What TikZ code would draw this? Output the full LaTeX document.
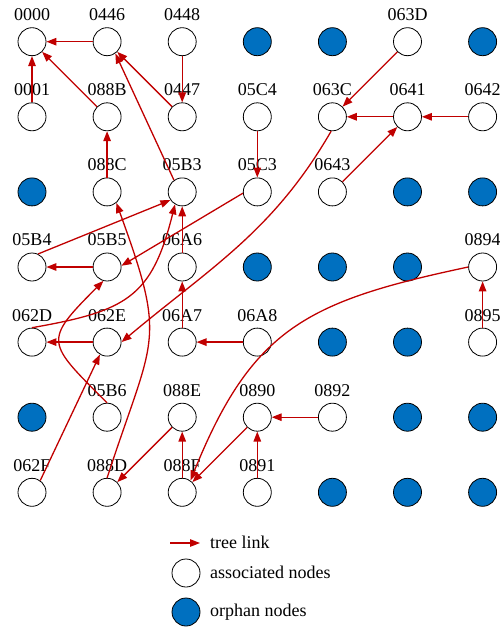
\documentclass[tikz,border=0pt]{standalone}
\usepackage{fontspec}
\setmainfont{Liberation Serif}
\usetikzlibrary{arrows.meta}
\definecolor{linkred}{RGB}{192,0,0}
\definecolor{orphanblue}{RGB}{0,112,192}
\begin{document}
\begin{tikzpicture}[x=1pt,y=1pt,
  assoc/.style={circle,draw=black,line width=0.8pt,fill=white,minimum size=28pt,inner sep=0pt},
  orphan/.style={assoc,fill=orphanblue},
  lab/.style={font=\fontsize{18}{18}\selectfont,inner sep=0pt,label distance=6.3pt},
  link/.style={draw=linkred,line width=1.3pt,-{Triangle[length=10pt,width=7.5pt]}},
  legtext/.style={font=\fontsize{18}{18}\selectfont,anchor=base west,inner sep=0pt}]
\useasboundingbox (0,0) rectangle (499,-629);
% row 0
\node[assoc,label={[lab]above:0000}] (n00) at (32,-41.7) {};
\node[assoc,label={[lab]above:0446}] (n10) at (107.1,-41.7) {};
\node[assoc,label={[lab]above:0448}] (n20) at (182.2,-41.7) {};
\node[orphan] (n30) at (257.3,-41.7) {};
\node[orphan] (n40) at (332.4,-41.7) {};
\node[assoc,label={[lab]above:063D}] (n50) at (407.5,-41.7) {};
\node[orphan] (n60) at (482.6,-41.7) {};
% row 1
\node[assoc,label={[lab]above:0001}] (n01) at (32,-116.8) {};
\node[assoc,label={[lab]above:088B}] (n11) at (107.1,-116.8) {};
\node[assoc,label={[lab]above:0447}] (n21) at (182.2,-116.8) {};
\node[assoc,label={[lab]above:05C4}] (n31) at (257.3,-116.8) {};
\node[assoc,label={[lab]above:063C}] (n41) at (332.4,-116.8) {};
\node[assoc,label={[lab]above:0641}] (n51) at (407.5,-116.8) {};
\node[assoc,label={[lab]above:0642}] (n61) at (482.6,-116.8) {};
% row 2
\node[orphan] (n02) at (32,-191.9) {};
\node[assoc,label={[lab]above:088C}] (n12) at (107.1,-191.9) {};
\node[assoc,label={[lab]above:05B3}] (n22) at (182.2,-191.9) {};
\node[assoc,label={[lab]above:05C3}] (n32) at (257.3,-191.9) {};
\node[assoc,label={[lab]above:0643}] (n42) at (332.4,-191.9) {};
\node[orphan] (n52) at (407.5,-191.9) {};
\node[orphan] (n62) at (482.6,-191.9) {};
% row 3
\node[assoc,label={[lab]above:05B4}] (n03) at (32,-267) {};
\node[assoc,label={[lab]above:05B5}] (n13) at (107.1,-267) {};
\node[assoc,label={[lab]above:06A6}] (n23) at (182.2,-267) {};
\node[orphan] (n33) at (257.3,-267) {};
\node[orphan] (n43) at (332.4,-267) {};
\node[orphan] (n53) at (407.5,-267) {};
\node[assoc,label={[lab]above:0894}] (n63) at (482.6,-267) {};
% row 4
\node[assoc,label={[lab]above:062D}] (n04) at (32,-342.1) {};
\node[assoc,label={[lab]above:062E}] (n14) at (107.1,-342.1) {};
\node[assoc,label={[lab]above:06A7}] (n24) at (182.2,-342.1) {};
\node[assoc,label={[lab]above:06A8}] (n34) at (257.3,-342.1) {};
\node[orphan] (n44) at (332.4,-342.1) {};
\node[orphan] (n54) at (407.5,-342.1) {};
\node[assoc,label={[lab]above:0895}] (n64) at (482.6,-342.1) {};
% row 5
\node[orphan] (n05) at (32,-417.2) {};
\node[assoc,label={[lab]above:05B6}] (n15) at (107.1,-417.2) {};
\node[assoc,label={[lab]above:088E}] (n25) at (182.2,-417.2) {};
\node[assoc,label={[lab]above:0890}] (n35) at (257.3,-417.2) {};
\node[assoc,label={[lab]above:0892}] (n45) at (332.4,-417.2) {};
\node[orphan] (n55) at (407.5,-417.2) {};
\node[orphan] (n65) at (482.6,-417.2) {};
% row 6
\node[assoc,label={[lab]above:062F}] (n06) at (32,-492.3) {};
\node[assoc,label={[lab]above:088D}] (n16) at (107.1,-492.3) {};
\node[assoc,label={[lab]above:088F}] (n26) at (182.2,-492.3) {};
\node[assoc,label={[lab]above:0891}] (n36) at (257.3,-492.3) {};
\node[orphan] (n46) at (332.4,-492.3) {};
\node[orphan] (n56) at (407.5,-492.3) {};
\node[orphan] (n66) at (482.6,-492.3) {};
% straight tree links
\draw[link] (n10) -- (n00);
\draw[link] (n01) -- (n00);
\draw[link] (n11) -- (n00);
\draw[link] (n20) -- (n21);
\draw[link] (n21) -- (n10);
\draw[link] (n22.125) -- (n10.-55);
\draw[link] (n12) -- (n11);
\draw[link] (n50) -- (n41);
\draw[link] (n51) -- (n41);
\draw[link] (n61) -- (n51);
\draw[link] (n42) -- (n51);
\draw[link] (n31) -- (n32);
\draw[link] (n32.185) -- (n13.5);
\draw[link] (n03.65) -- (n22.-145);
\draw[link] (n13) -- (n03);
\draw[link] (n23) -- (n22);
\draw[link] (n24) -- (n23);
\draw[link] (n34) -- (n24);
\draw[link] (n14) -- (n04);
\draw[link] (n06.55) -- (n14.-120);
\draw[link] (n25) -- (n16);
\draw[link] (n26) -- (n25);
\draw[link] (n35) -- (n26);
\draw[link] (n45) -- (n35);
\draw[link] (n36) -- (n35);
\draw[link] (n64) -- (n63);
% curved tree links
\draw[link] (n04.north) to[out=10,in=-104,looseness=1.3] (n22.-120);
\draw[link] (n15.north) to[out=135,in=-135,looseness=1.8] (n13.-105);
\draw[link] (n16.north) to[out=72,in=-70,looseness=1.4] (n12.-50);
\draw[link] (n41.-95) to[out=-120,in=40,looseness=1] (n14.east);
\draw[link] (n63.west) to[out=192,in=68,looseness=1.2] (n26.55);
% legend
\coordinate (la) at (170,-543);
\coordinate (lb) at (200,-543);
\draw[link] (la) -- (lb);
\node[legtext] (lt1) at (210,-548) {tree link};
\node[assoc] (lc2) at (186,-573) {};
\node[legtext] (lt2) at (210,-578) {associated nodes};
\node[orphan] (lc3) at (186,-612) {};
\node[legtext] (lt3) at (210,-616) {orphan nodes};
\end{tikzpicture}
\end{document}
